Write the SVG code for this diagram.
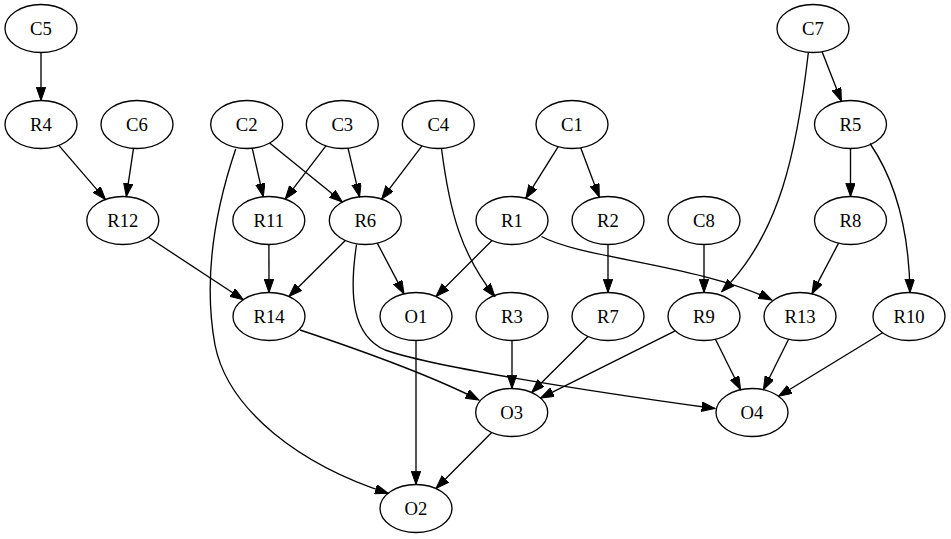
<svg xmlns="http://www.w3.org/2000/svg" width="951" height="539" viewBox="0 0 951 539">
<style>
.n ellipse{fill:none;stroke:#000;stroke-width:1.33}
.n text{font-family:"Liberation Serif","Times New Roman",serif;font-size:18.67px;text-anchor:middle;fill:#000}
#edges path{fill:none;stroke:#000;stroke-width:1.33;marker-end:url(#ah)}
</style>
<defs>
<marker id="ah" markerUnits="userSpaceOnUse" markerWidth="14" markerHeight="10" refX="13.3" refY="4.7" orient="auto">
<path d="M0,0 L13.3,4.7 L0,9.4 Z" fill="#000" stroke="#000" stroke-width="1"/>
</marker>
</defs>
<rect width="951" height="539" fill="#fff"/>
<g id="edges">
<path d="M41,52.5 L41,100.5"/>
<path d="M58.8,145.4 L105.5,199.6"/>
<path d="M133.5,148.4 L126.3,196.6"/>
<path d="M252.2,148.2 L263.3,196.8"/>
<path d="M325.9,145.9 L285.2,199.1"/>
<path d="M269.6,143 L342.4,202"/>
<path d="M348,148.2 L359.6,196.8"/>
<path d="M422,145.9 L381.6,199.1"/>
<path d="M441.5,148.5 C450,215 462,255 495,296.7"/>
<path d="M558.2,146.7 L525.8,198.3"/>
<path d="M580.7,147.8 L599.3,197.2"/>
<path d="M822.1,51.7 L841.4,101.3"/>
<path d="M808.3,53 C797,150 780,235 721.7,291.7"/>
<path d="M850.5,148.5 L850.5,196.5"/>
<path d="M870,143.5 C895,180 909,230 910,292.5"/>
<path d="M704,244.5 L704,292.5"/>
<path d="M838.6,243.1 L811.9,293.9"/>
<path d="M492,240.5 L436,296.5"/>
<path d="M541.5,236.5 C580,258 700,265 772,300"/>
<path d="M608,244.5 L608,292.5"/>
<path d="M345.3,240.5 L289,296.5"/>
<path d="M377.3,243.1 L404,293.9"/>
<path d="M356.5,244.5 C349,295 352,335 385,350 C430,366 580,390 715,408.5"/>
<path d="M148.4,237.3 L243.4,299.7"/>
<path d="M268.9,244.5 L269,292.5"/>
<path d="M235.7,149 C210,225 205,290 215,345 C228,410 300,465 388.3,493.3"/>
<path d="M300,330 C360,350 430,375 479,400"/>
<path d="M416,340.5 L416,484.5"/>
<path d="M512,340.5 L512,388.5"/>
<path d="M588,336.5 L531.7,392.5"/>
<path d="M675.2,330.9 L540.5,398.1"/>
<path d="M715.4,339.3 L740.6,389.7"/>
<path d="M788.6,339.3 L763.4,389.7"/>
<path d="M882.5,332.7 L778.5,396.3"/>
<path d="M491.7,432.5 L436,488.5"/>
</g>
<g id="C5" class="n"><ellipse cx="41" cy="28.5" rx="36" ry="24"/><text x="41" y="35">C5</text></g>
<g id="C7" class="n"><ellipse cx="813" cy="28.5" rx="36" ry="24"/><text x="813" y="35">C7</text></g>
<g id="R4" class="n"><ellipse cx="41" cy="124.5" rx="36" ry="24"/><text x="41" y="131">R4</text></g>
<g id="C6" class="n"><ellipse cx="137" cy="124.5" rx="36" ry="24"/><text x="137" y="131">C6</text></g>
<g id="C2" class="n"><ellipse cx="246.7" cy="124.5" rx="36" ry="24"/><text x="246.7" y="131">C2</text></g>
<g id="C3" class="n"><ellipse cx="342.3" cy="124.5" rx="36" ry="24"/><text x="342.3" y="131">C3</text></g>
<g id="C4" class="n"><ellipse cx="438.3" cy="124.5" rx="36" ry="24"/><text x="438.3" y="131">C4</text></g>
<g id="C1" class="n"><ellipse cx="572" cy="124.5" rx="36" ry="24"/><text x="572" y="131">C1</text></g>
<g id="R5" class="n"><ellipse cx="850.5" cy="124.5" rx="36" ry="24"/><text x="850.5" y="131">R5</text></g>
<g id="R12" class="n"><ellipse cx="122.8" cy="220.5" rx="36" ry="24"/><text x="122.8" y="227">R12</text></g>
<g id="R11" class="n"><ellipse cx="268.8" cy="220.5" rx="36" ry="24"/><text x="268.8" y="227">R11</text></g>
<g id="R6" class="n"><ellipse cx="365.3" cy="220.5" rx="36" ry="24"/><text x="365.3" y="227">R6</text></g>
<g id="R1" class="n"><ellipse cx="512" cy="220.5" rx="36" ry="24"/><text x="512" y="227">R1</text></g>
<g id="R2" class="n"><ellipse cx="608" cy="220.5" rx="36" ry="24"/><text x="608" y="227">R2</text></g>
<g id="C8" class="n"><ellipse cx="704" cy="220.5" rx="36" ry="24"/><text x="704" y="227">C8</text></g>
<g id="R8" class="n"><ellipse cx="850.5" cy="220.5" rx="36" ry="24"/><text x="850.5" y="227">R8</text></g>
<g id="R14" class="n"><ellipse cx="269" cy="316.5" rx="36" ry="24"/><text x="269" y="323">R14</text></g>
<g id="O1" class="n"><ellipse cx="416" cy="316.5" rx="36" ry="24"/><text x="416" y="323">O1</text></g>
<g id="R3" class="n"><ellipse cx="512" cy="316.5" rx="36" ry="24"/><text x="512" y="323">R3</text></g>
<g id="R7" class="n"><ellipse cx="608" cy="316.5" rx="36" ry="24"/><text x="608" y="323">R7</text></g>
<g id="R9" class="n"><ellipse cx="704" cy="316.5" rx="36" ry="24"/><text x="704" y="323">R9</text></g>
<g id="R13" class="n"><ellipse cx="800" cy="316.5" rx="36" ry="24"/><text x="800" y="323">R13</text></g>
<g id="R10" class="n"><ellipse cx="909" cy="316.5" rx="36" ry="24"/><text x="909" y="323">R10</text></g>
<g id="O3" class="n"><ellipse cx="511.7" cy="412.5" rx="36" ry="24"/><text x="511.7" y="419">O3</text></g>
<g id="O4" class="n"><ellipse cx="752" cy="412.5" rx="36" ry="24"/><text x="752" y="419">O4</text></g>
<g id="O2" class="n"><ellipse cx="416" cy="508.5" rx="36" ry="24"/><text x="416" y="515">O2</text></g>
</svg>
